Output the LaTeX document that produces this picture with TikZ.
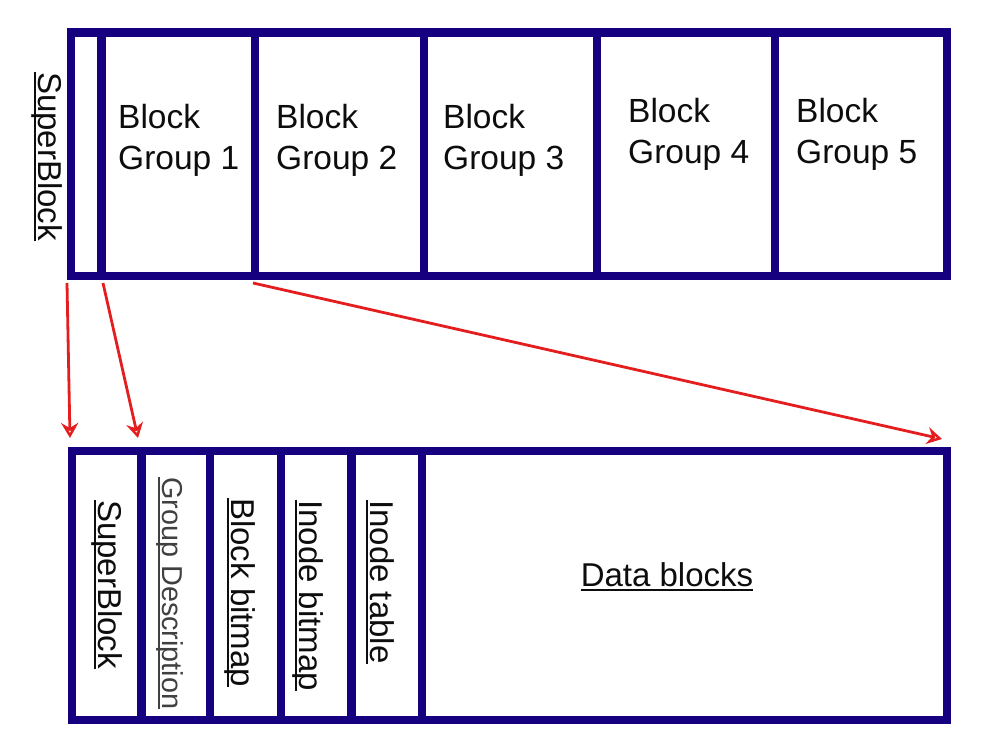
\documentclass[tikz,border=0pt]{standalone}
\usepackage{fontspec}
\setmainfont{Liberation Sans}
\usetikzlibrary{arrows.meta}
\definecolor{navyB}{RGB}{22,0,128}
\definecolor{redA}{RGB}{228,30,30}
\newcommand\undl[1]{\setbox0\hbox{#1}\rlap{\rule[-4.5pt]{\wd0}{1.8pt}}\box0}
\tikzset{
  cellS/.style ={draw=navyB, line width=8.5pt, inner sep=0pt, outer sep=0pt, anchor=north west},
  topC/.style  ={cellS, minimum height=243.5pt},
  botC/.style  ={cellS, minimum height=269pt},
  grpT/.style  ={black!95, inner sep=0pt, anchor=base west, align=left,
                 font=\fontsize{33.5}{41}\selectfont},
  vertT/.style ={black!95, inner sep=0pt, anchor=west, rotate=-90,
                 font=\fontsize{33}{40}\selectfont},
  linkS/.style ={redA, line width=2.8pt,
                 -{Stealth[open, length=15pt, width=17pt, inset=5pt]}},
}

\begin{document}
\begin{tikzpicture}[x=1pt, y=-1pt]
  \useasboundingbox (0,0) rectangle (988,733);
  % disk: superblock + block groups
  \node[topC, minimum width=30.5pt]  (sb)  at (71,32.5)  {};
  \node[topC, minimum width=153.5pt] (bg1) at (101.5,32.5) {};
  \node[topC, minimum width=169pt]   (bg2) at (255,32.5) {};
  \node[topC, minimum width=173pt]   (bg3) at (424,32.5) {};
  \node[topC, minimum width=178pt]   (bg4) at (597,32.5) {};
  \node[topC, minimum width=172pt]   (bg5) at (775,32.5) {};
  \node[vertT] (sbT) at (47,72) {\undl{SuperBlock}};
  \node[grpT] (bg1T) at (118,169) {Block\\Group 1};
  \node[grpT] (bg2T) at (276,169) {Block\\Group 2};
  \node[grpT] (bg3T) at (443,169) {Block\\Group 3};
  \node[grpT] (bg4T) at (628,164) {Block\\Group 4};
  \node[grpT] (bg5T) at (796,164) {Block\\Group 5};
  % one block group in detail
  \node[botC, minimum width=69.5pt]  (sbB) at (72,451)    {};
  \node[botC, minimum width=68.5pt]  (gd)  at (141.5,451) {};
  \node[botC, minimum width=71pt]    (bb)  at (210,451)   {};
  \node[botC, minimum width=70.5pt]  (ib)  at (281,451)   {};
  \node[botC, minimum width=70.5pt]  (it)  at (351.5,451) {};
  \node[botC, minimum width=525pt]   (db)  at (422,451)   {};
  \node[vertT] (sbBT) at (107,500) {\undl{SuperBlock}};
  \node[vertT, black!75, font=\fontsize{28.8}{34}\selectfont] (gdT) at (170,477) {\undl{Group Description}};
  \node[vertT] (bbT) at (240,498) {\undl{Block bitmap}};
  \node[vertT] (ibT) at (308,500) {\undl{Inode bitmap}};
  \node[vertT] (itT) at (380,500) {\undl{Inode table}};
  \node[black!95, font=\fontsize{33}{40}\selectfont] (dbT) at (667,577) {\undl{Data blocks}};
  % links
  \draw[linkS] ([xshift=-4pt, yshift=-7pt]sb.south west) -- ([xshift=-2pt, yshift=13pt]sbB.north west);
  \draw[linkS] ([xshift=1.5pt, yshift=-7pt]sb.south east) -- ([xshift=-3.5pt, yshift=13pt]gd.north west);
  \draw[linkS] ([xshift=-2pt, yshift=-7pt]bg1.south east) -- ([xshift=-5pt, yshift=12pt]db.north east);
\end{tikzpicture}
\end{document}
